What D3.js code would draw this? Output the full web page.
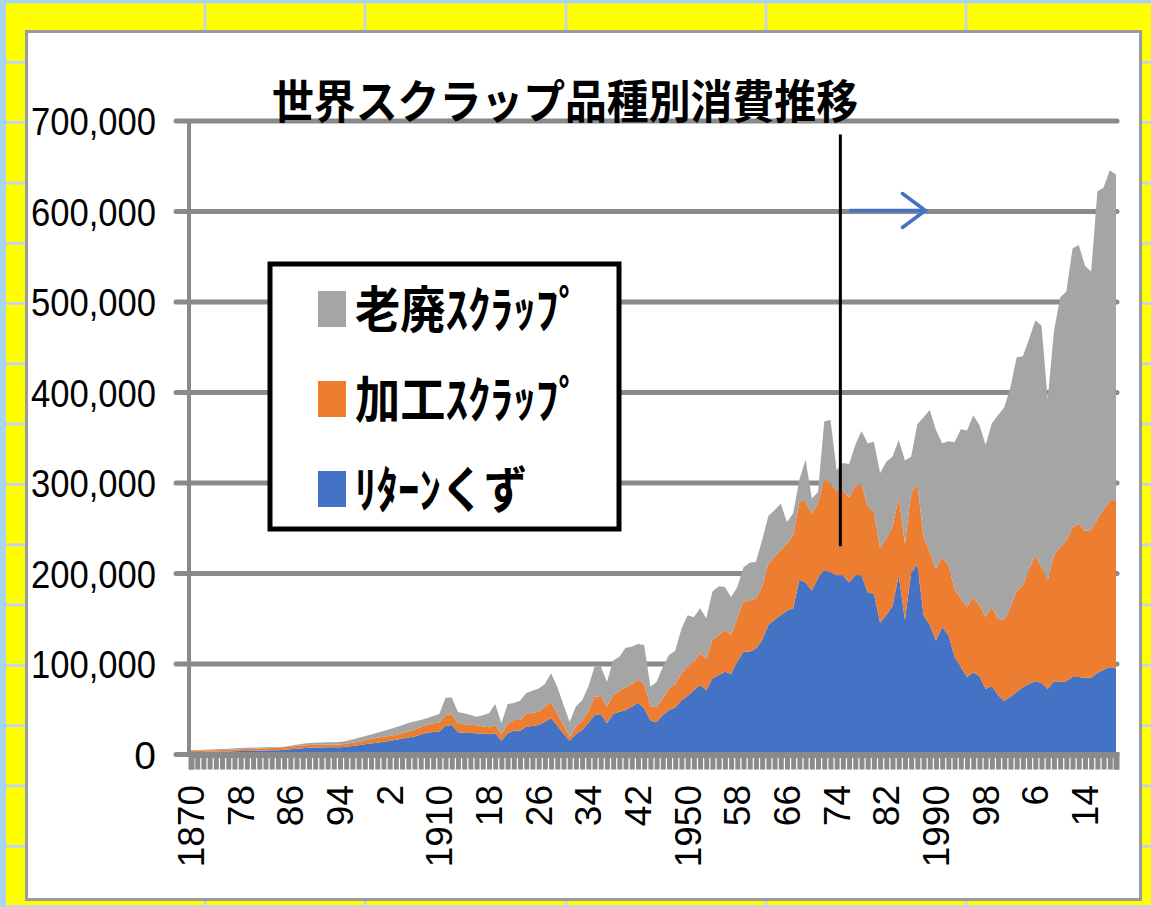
<!DOCTYPE html>
<html><head><meta charset="utf-8">
<script src="https://cdn.jsdelivr.net/npm/d3@7"></script>
<style>body{margin:0;background:#fff}svg{display:block}</style>
</head><body>
<svg id="c" width="1151" height="907"></svg>
<script>
// ---- data (thousand tonnes; multiplied by UNIT) ----
const UNIT = 1000;
const startYear = 1870;
const returnScrap = [ // リターンくず (blue)
2.6,2.8,2.9,3.0,3.1,3.3,3.4,3.6,3.8,4.0,
4.2,4.3,4.5,4.6,4.8,5.2,5.8,6.4,7.0,7.5,
7.7,7.8,7.9,8.0,8.1,8.5,9.5,10.3,11.2,12.1,
12.9,14.0,15.0,16.2,17.5,18.8,19.8,22.0,24.0,25.0,
25.5,31.5,32.6,24.5,24.0,23.7,23.4,23.0,22.3,23.4,
15.3,23.4,26.3,26.3,30.7,31.5,32.6,35.9,40.0,32.0,
23.0,15.3,22.6,27.0,34.5,43.6,44.4,34.5,44.7,47.3,
49.0,52.8,57.2,51.0,37.3,36.0,43.6,49.0,52.0,60.0,
64.6,71.0,76.8,71.0,84.0,87.8,91.5,89.0,102.5,113.6,
113.6,117.0,126.5,143.0,149.0,154.0,159.0,161.5,193.0,190.0,
181.0,195.0,204.0,201.0,198.0,198.0,190.0,198.0,198.0,178.8,
178.0,145.6,154.0,164.0,198.0,148.6,200.0,210.5,154.0,143.0,
125.7,141.0,132.0,108.0,96.7,85.6,91.0,86.5,72.4,75.5,
65.8,59.0,63.6,69.0,74.6,78.0,81.0,79.0,72.4,81.0,
80.0,81.0,85.6,85.6,84.8,84.8,90.0,93.6,96.7,95.0];
const promptScrap = [ // 加工スクラップ (orange)
1.5,1.5,1.6,1.7,1.7,1.7,1.8,1.9,2.0,2.1,
2.2,2.3,2.4,2.5,2.6,2.7,2.8,2.9,3.0,3.0,
3.0,3.0,3.0,3.0,3.0,3.3,3.5,3.7,4.3,4.9,
5.5,5.5,5.5,5.6,6.2,6.7,7.5,8.5,9.0,9.5,
9.5,12.1,12.1,9.5,9.5,9.3,8.8,8.0,7.7,9.2,
7.3,10.3,11.7,11.7,14.0,14.5,14.7,16.9,18.3,13.0,
9.0,4.4,8.1,10.3,12.8,20.3,20.2,18.3,21.0,23.2,
25.0,25.2,25.8,27.0,16.3,16.0,18.4,24.0,26.0,29.7,
32.4,31.5,35.2,35.0,42.5,44.2,46.1,43.0,48.0,55.4,
56.4,55.6,58.5,68.0,69.5,72.0,74.0,81.0,86.0,89.0,
85.0,83.0,100.0,99.0,93.0,94.0,94.0,98.7,101.0,95.2,
90.0,82.4,85.0,88.0,86.0,84.4,88.6,88.5,86.7,81.0,
78.9,77.0,77.0,75.0,75.3,77.4,83.0,78.5,79.6,87.5,
84.2,89.3,99.4,111.6,112.4,127.0,139.0,128.0,120.1,139.0,
149.0,155.0,165.4,169.4,162.2,163.2,170.0,177.4,183.3,185.0];
const obsoleteScrap = [ // 老廃スクラップ (gray)
0.8,0.8,0.8,0.9,1.0,1.1,1.2,1.3,1.3,1.3,
1.2,1.2,1.1,1.0,0.8,0.8,1.0,1.5,2.0,2.2,
2.3,2.4,2.5,2.6,2.7,3.0,3.7,4.5,4.8,5.2,
5.6,6.5,7.5,8.2,8.7,9.3,9.2,7.5,7.0,8.0,
9.7,19.2,18.3,13.0,12.0,10.6,9.6,12.5,15.5,23.2,
11.9,22.1,19.0,21.5,23.3,24.5,25.7,25.2,31.4,30.0,
23.0,16.3,22.3,22.7,27.7,33.1,33.2,27.2,38.3,37.5,
44.0,41.0,39.0,43.0,21.4,28.0,35.0,37.0,36.7,49.3,
57.0,49.1,49.5,44.5,53.5,54.0,47.4,42.0,34.5,38.0,
42.0,40.4,52.0,52.5,51.5,51.0,24.0,24.0,25.0,47.0,
17.0,12.0,64.0,70.0,23.0,30.0,37.0,45.3,58.5,70.0,
77.6,83.0,84.5,77.0,63.5,92.0,40.4,66.0,131.9,156.7,
154.0,126.0,137.0,162.0,187.4,195.0,201.0,199.0,190.0,203.0,
225.0,235.4,242.7,258.4,253.0,254.0,259.5,267.0,200.0,247.5,
276.0,275.7,308.0,308.0,293.0,285.8,362.0,355.5,365.5,361.0];
const yTickValues = [0,100000,200000,300000,400000,500000,600000,700000];
const xTickLabels = ["1870","78","86","94","2","1910","18","26","34","42","1950","58","66","74","82","1990","98","6","14"];
const seriesNames = ["老廃ｽｸﾗｯﾌﾟ","加工ｽｸﾗｯﾌﾟ","ﾘﾀｰﾝくず"];
const title = "世界スクラップ品種別消費推移";
const markerYear = 1974.6;      // vertical annotation line
const arrowYears = [1976.2, 1988.3];
const arrowValue = 600000;

// ---- build table ----
const years = returnScrap.map((_, i) => startYear + i);
const table = years.map((yr, i) => ({
  year: yr,
  ret: returnScrap[i] * UNIT,
  prompt: promptScrap[i] * UNIT,
  old: obsoleteScrap[i] * UNIT
}));

const svg = d3.select("#c");
const W = 1151, H = 907;

// ---- spreadsheet-like background ----
svg.append("rect").attr("width", W).attr("height", H).attr("fill", "#ffff00");
const bg = svg.append("g").attr("stroke", "#c9d3e6").attr("stroke-width", 3);
const rowLines = d3.range(2, H + 60, 60.3);
bg.selectAll("line.r").data(rowLines).join("line")
  .attr("x1", 0).attr("x2", W).attr("y1", d => d).attr("y2", d => d);
const colLines = [205, 365, 566, 766, 966];
bg.selectAll("line.c").data(colLines).join("line")
  .attr("y1", 0).attr("y2", H).attr("x1", d => d).attr("x2", d => d);
svg.append("rect").attr("x", 0).attr("y", 0).attr("width", 6).attr("height", H).attr("fill", "#a9d5ef");
svg.append("rect").attr("x", 0).attr("y", 0).attr("width", W).attr("height", 3).attr("fill", "#a9d5ef");

// ---- chart frame ----
svg.append("rect").attr("x", 26.5).attr("y", 31.5).attr("width", 1114).attr("height", 868)
  .attr("fill", "#fff").attr("stroke", "#9b9b9b").attr("stroke-width", 3);

// ---- scales ----
const x = d3.scaleLinear().domain([startYear, years[years.length - 1]]).range([191, 1116]);
const y = d3.scaleLinear().domain([0, 700000]).range([754.5, 121]);

// gridlines
const gridColor = "#8a8a8a";
svg.append("g").selectAll("line").data(yTickValues).join("line")
  .attr("x1", 176).attr("x2", 1117)
  .attr("y1", d => y(d)).attr("y2", d => y(d))
  .attr("stroke", gridColor).attr("stroke-width", 5).attr("stroke-linecap", "round");

// stacked areas
const keys = ["ret", "prompt", "old"];
const colors = {ret: "#4472c4", prompt: "#ed7d31", old: "#a5a5a5"};
const stacked = d3.stack().keys(keys)(table);
const area = d3.area()
  .x(d => x(d.data.year))
  .y0(d => y(d[0]))
  .y1(d => y(d[1]));
svg.append("g").selectAll("path").data(stacked).join("path")
  .attr("d", area).attr("fill", d => colors[d.key]);

// y axis line
svg.append("line").attr("x1", 189).attr("x2", 189).attr("y1", y(700000) - 2).attr("y2", y(0) + 2)
  .attr("stroke", gridColor).attr("stroke-width", 4);

// x axis ticks (one per category)
const xAxis = d3.axisBottom(x).tickValues(years).tickSize(15).tickFormat("");
const gx = svg.append("g").attr("transform", `translate(0,${y(0)})`).call(xAxis);
gx.select(".domain").attr("stroke", gridColor).attr("stroke-width", 6);
gx.selectAll(".tick line").attr("stroke", gridColor).attr("stroke-width", 5);

// x labels
const labelYears = xTickLabels.map((_, i) => startYear + i * 8);
svg.append("g").selectAll("text").data(labelYears).join("text")
  .attr("transform", d => `translate(${x(d) + 13},785) rotate(-90)`)
  .attr("text-anchor", "end")
  .attr("font-family", "Liberation Sans, Arial, sans-serif")
  .attr("font-size", 37)
  .attr("fill", "#000")
  .text((d, i) => xTickLabels[i]);

// y labels
svg.append("g").selectAll("text").data(yTickValues).join("text")
  .attr("x", 156).attr("y", d => y(d) + 14)
  .attr("text-anchor", "end")
  .attr("font-family", "Liberation Sans, Arial, sans-serif")
  .attr("font-size", 39)
  .attr("fill", "#000")
  .each(function(d) {
    const s = d3.format(",")(d);
    const t = d3.select(this).text(s);
    if (s.length === 7) t.attr("textLength", 125).attr("lengthAdjust", "spacingAndGlyphs");
  });

// title
svg.append("text").attr("x", 565).attr("y", 118)
  .attr("text-anchor", "middle")
  .attr("font-family", "Noto Sans CJK JP, sans-serif")
  .attr("font-weight", 700).attr("font-size", 46)
  .attr("textLength", 586).attr("lengthAdjust", "spacingAndGlyphs")
  .text(title);

// annotation: vertical line and arrow
svg.append("line").attr("x1", x(markerYear)).attr("x2", x(markerYear))
  .attr("y1", y(685000)).attr("y2", y(230000))
  .attr("stroke", "#000").attr("stroke-width", 3);
const ay = y(arrowValue) - 1;
const ax0 = x(arrowYears[0]), ax1 = x(arrowYears[1]);
svg.append("path")
  .attr("d", `M${ax0},${ay}H${ax1}M${ax1 - 23},${ay - 17}L${ax1},${ay}L${ax1 - 23},${ay + 17}`)
  .attr("fill", "none").attr("stroke", "#4472c4").attr("stroke-width", 3.5)
  .attr("stroke-linecap", "round").attr("stroke-linejoin", "miter");

// legend
const lg = svg.append("g");
lg.append("rect").attr("x", 270).attr("y", 264).attr("width", 349).attr("height", 265)
  .attr("fill", "#fff").attr("stroke", "#000").attr("stroke-width", 5);
const legendItems = [
  {name: seriesNames[0], color: colors.old, w: 226},
  {name: seriesNames[1], color: colors.prompt, w: 226},
  {name: seriesNames[2], color: colors.ret, w: 172}
];
legendItems.forEach((it, i) => {
  const cy = 308 + i * 90;
  lg.append("rect").attr("x", 318).attr("y", cy - 17).attr("width", 28).attr("height", 36).attr("fill", it.color);
  lg.append("text").attr("x", 355).attr("y", cy + 20)
    .attr("font-family", "Noto Sans CJK JP, sans-serif")
    .attr("font-weight", 700).attr("font-size", 50)
    .attr("textLength", it.w).attr("lengthAdjust", "spacingAndGlyphs")
    .text(it.name);
});
</script>
</body></html>
